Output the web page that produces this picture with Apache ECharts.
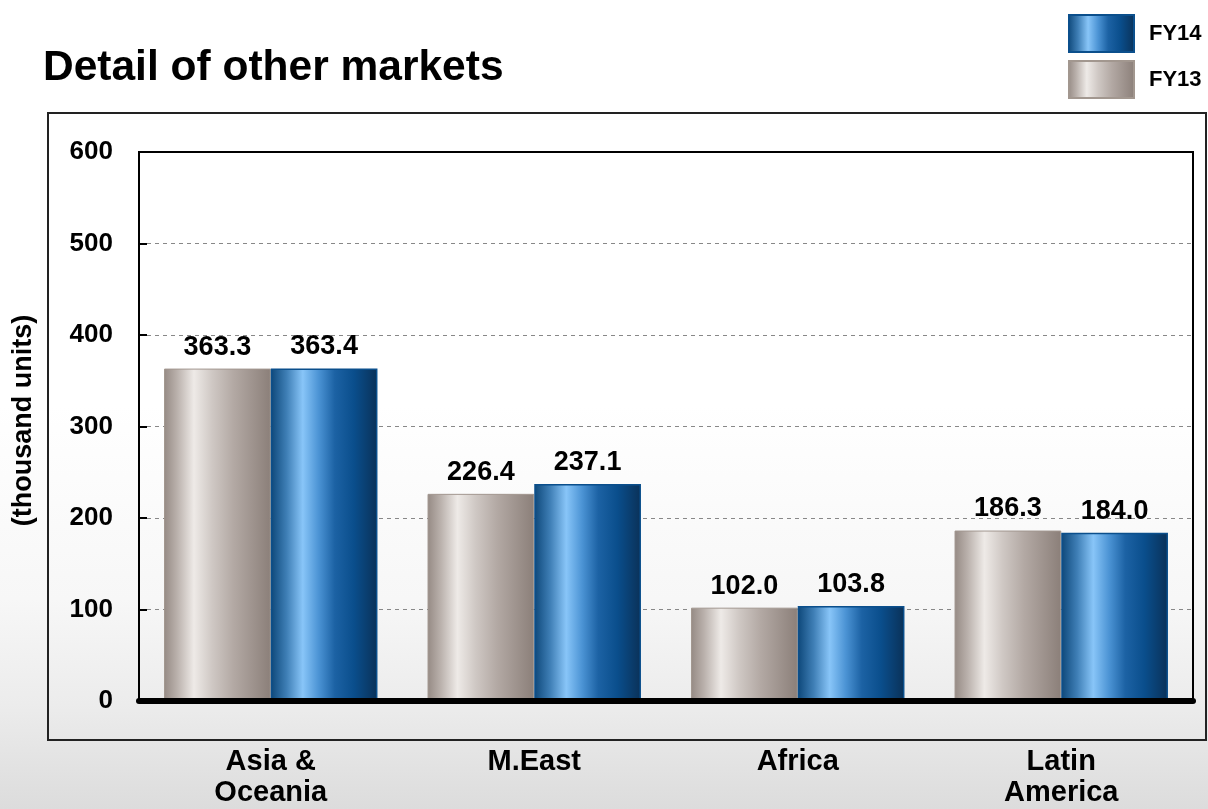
<!DOCTYPE html>
<html>
<head>
<meta charset="utf-8">
<script src="https://cdn.jsdelivr.net/npm/echarts@6/dist/echarts.min.js"></script>
<style>
    html, body { margin: 0; padding: 0; }
    #chart { width: 1208px; height: 809px; }
</style>
</head>
<body>
<div id="chart"></div>
<script>
var categories = ['Asia &\nOceania', 'M.East', 'Africa', 'Latin\nAmerica'];
var fy13 = [363.3, 226.4, 102.0, 186.3];
var fy14 = [363.4, 237.1, 103.8, 184.0];
var yTicks = [0, 600, 100];

var font = 'Liberation Sans, Arial, sans-serif';

var bar = function () {
    var myChart = echarts.init(document.getElementById('chart'));

    var greyFill = new echarts.graphic.LinearGradient(0, 0, 1, 0, [
        {offset: 0, color: '#958a84'},
        {offset: 0.12, color: '#b9b0ab'},
        {offset: 0.28, color: '#eeeae7'},
        {offset: 0.45, color: '#cfc8c4'},
        {offset: 0.65, color: '#b3a9a4'},
        {offset: 1, color: '#8b7f79'}
    ]);
    var blueFill = new echarts.graphic.LinearGradient(0, 0, 1, 0, [
        {offset: 0, color: '#0d4779'},
        {offset: 0.15, color: '#3f7fb6'},
        {offset: 0.3, color: '#88c5f8'},
        {offset: 0.45, color: '#4b93d4'},
        {offset: 0.6, color: '#1c62a4'},
        {offset: 0.78, color: '#0a4e8c'},
        {offset: 1, color: '#0a3158'}
    ]);

    var valueLabel = {
        show: true,
        position: 'top',
        distance: 8,
        color: '#000',
        fontFamily: font,
        fontWeight: 'bold',
        fontSize: 27,
        formatter: function (p) { return p.value.toFixed(1); }
    };

    var option = {
        animation: false,
        textStyle: { fontFamily: font },
        graphic: [
            {   // page background
                type: 'rect',
                z: -10,
                shape: { x: 0, y: 0, width: 1208, height: 809 },
                style: {
                    fill: new echarts.graphic.LinearGradient(0, 0, 0, 1, [
                        {offset: 0, color: '#ffffff'},
                        {offset: 0.5, color: '#ffffff'},
                        {offset: 0.74, color: '#f7f7f7'},
                        {offset: 0.87, color: '#ececec'},
                        {offset: 1, color: '#dcdcdc'}
                    ])
                }
            },
            {   // outer frame
                type: 'rect',
                z: 1,
                shape: { x: 48, y: 113, width: 1158, height: 627 },
                style: { fill: null, stroke: '#222', lineWidth: 2 }
            }
        ],
        title: {
            text: 'Detail of other markets',
            left: 43,
            top: 47,
            padding: 0,
            textStyle: {
                color: '#000',
                fontFamily: font,
                fontWeight: 'bold',
                fontSize: 42.5
            }
        },
        legend: {
            orient: 'vertical',
            left: 1068,
            top: 14,
            padding: 0,
            itemWidth: 65,
            itemHeight: 37,
            itemGap: 7,
            icon: 'rect',
            data: ['FY14', 'FY13'],
            textStyle: {
                color: '#000',
                fontFamily: font,
                fontWeight: 'bold',
                fontSize: 22,
                padding: [0, 0, 0, 10]
            }
        },
        grid: {
            show: true,
            left: 139,
            top: 152,
            right: 15,
            bottom: 108,
            borderColor: '#000',
            borderWidth: 2,
            backgroundColor: 'transparent'
        },
        xAxis: {
            type: 'category',
            data: categories,
            z: 10,
            axisLine: {
                show: true,
                lineStyle: { color: '#000', width: 6 }
            },
            axisTick: { show: false },
            axisLabel: {
                color: '#000',
                fontFamily: font,
                fontWeight: 'bold',
                fontSize: 29,
                lineHeight: 31,
                margin: 45,
                interval: 0
            }
        },
        yAxis: {
            type: 'value',
            min: yTicks[0],
            max: yTicks[1],
            interval: yTicks[2],
            name: '(thousand units)',
            nameLocation: 'middle',
            nameGap: 102,
            nameTextStyle: {
                color: '#000',
                fontFamily: font,
                fontWeight: 'bold',
                fontSize: 27,
                padding: [0, 0, 0, 12]
            },
            axisLine: {
                show: true,
                lineStyle: { color: '#000', width: 2 }
            },
            axisTick: {
                show: true,
                inside: true,
                length: 8,
                lineStyle: { color: '#000', width: 2 }
            },
            axisLabel: {
                color: '#000',
                fontFamily: font,
                fontWeight: 'bold',
                fontSize: 26,
                margin: 26
            },
            splitLine: {
                show: true,
                showMinLine: false,
                showMaxLine: false,
                lineStyle: { color: '#888', type: [4, 4], width: 1 }
            }
        },
        series: [
            {
                name: 'FY13',
                type: 'bar',
                data: fy13,
                barGap: '0%',
                barCategoryGap: '19%',
                itemStyle: {
                    color: greyFill,
                    borderColor: '#a2978f',
                    borderWidth: 1
                },
                label: valueLabel
            },
            {
                name: 'FY14',
                type: 'bar',
                data: fy14,
                barGap: '0%',
                barCategoryGap: '19%',
                itemStyle: {
                    color: blueFill,
                    borderColor: '#0b4f8c',
                    borderWidth: 1.5
                },
                label: valueLabel
            }
        ]
    };
    myChart.setOption(option);
};
bar();
</script>
</body>
</html>
